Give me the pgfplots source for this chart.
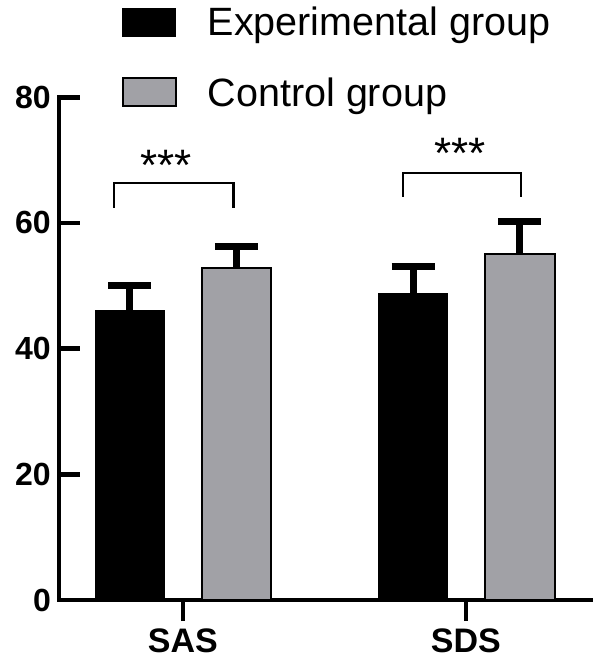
\documentclass[border=0pt]{standalone}
\usepackage{pgfplots}
\pgfplotsset{compat=1.18}
\usepackage{fontspec}
\setmainfont{Liberation Sans}
\definecolor{ctrlgray}{RGB}{161,161,166}
\begin{document}
\begin{tikzpicture}
\useasboundingbox (0,0) rectangle (600pt,671pt);
\begin{axis}[
  at={(59pt,71pt)}, anchor=south west,
  scale only axis, width=532pt, height=502.7pt,
  xmin=-0.438, xmax=1.442, ymin=0, ymax=80,
  axis lines*=left,
  axis line style={line width=4.5pt, line cap=rect},
  clip=false,
  xtick={0,1}, xticklabels={SAS,SDS},
  ytick={0,20,40,60,80},
  xtick align=outside, ytick align=inside,
  major tick length=21pt,
  every tick/.style={line width=4.5pt, black},
  /pgf/number format/assume math mode=true,
  yticklabel style={font=\fontsize{32}{38}\selectfont\bfseries, inner sep=0pt, xshift=-8pt},
  xticklabel style={font=\fontsize{34}{40}\selectfont\bfseries, inner sep=0pt, yshift=-8pt},
  legend image code/.code={\draw[#1] (0pt,-14pt) rectangle (53pt,14pt); \path (84pt,0pt);},
  legend style={at={(rel axis cs:0.118,1.179)}, anchor=north west, draw=none, fill=none,
    inner sep=0pt, outer sep=0pt, font=\fontsize{39.5}{46}\selectfont, row sep=40pt,
    nodes={inner sep=0pt}},
  legend cell align=left,
]
\addplot[ybar, bar shift=0pt, bar width=0.245, fill=black, draw=black, line width=1pt,
  error bars/.cd, y dir=plus, y explicit,
  error bar style={line width=7pt, black},
  error mark options={rotate=90, line width=7pt, mark size=21.5pt, black}]
  coordinates {(-0.188,46.1) +- (0,3.9) (0.813,48.7) +- (0,4.4)};
\addlegendentry{Experimental group}
\addplot[ybar, bar shift=0pt, bar width=0.245, fill=ctrlgray, draw=black, line width=2pt,
  error bars/.cd, y dir=plus, y explicit,
  error bar style={line width=7pt, black},
  error mark options={rotate=90, line width=7pt, mark size=21.5pt, black}]
  coordinates {(0.189,52.8) +- (0,3.5) (1.191,55.0) +- (0,5.2)};
\addlegendentry{Control group}
\addplot[forget plot, black, line width=2.3pt, mark=none]
  coordinates {(-0.243,62.4) (-0.243,66.4) (0.179,66.4) (0.179,62.4)};
\addplot[forget plot, black, line width=2.3pt, mark=none]
  coordinates {(0.778,64.2) (0.778,68.0) (1.194,68.0) (1.194,64.2)};
\node[anchor=base, inner sep=0pt, font=\fontsize{44}{48}\selectfont] at (axis cs:-0.06,66.8) {***};
\node[anchor=base, inner sep=0pt, font=\fontsize{44}{48}\selectfont] at (axis cs:0.98,68.7) {***};
\end{axis}
\end{tikzpicture}
\end{document}
